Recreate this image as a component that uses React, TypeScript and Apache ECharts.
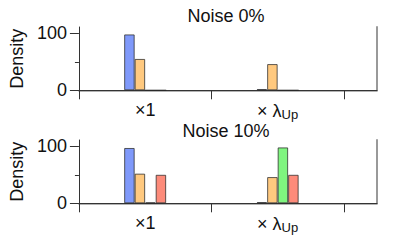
import React, { useEffect, useRef } from "react";
import * as echarts from "echarts";

const categories = ["×1", "× λ{sub|Up}"];
const categoryPositions = [1, 2];
const seriesNames = ["A", "B", "C", "D"];
const colors = ["#7f99fa", "#ffc97f", "#7ff57f", "#fd8b7a"];
const panelTitles = ["Noise 0%", "Noise 10%"];
const panel0Values = [
  [98, 2],
  [55, 46],
  [0, 0],
  [0, 0],
];
const panel1Values = [
  [97, 2],
  [52, 46],
  [1.5, 98],
  [50, 50],
];
const yTicks = [0, 100];
const xTickPositions = [0.5, 1.5, 2.5];

const FONT = "Liberation Sans";

export default function App() {
  const ref = useRef<HTMLDivElement>(null);
  useEffect(() => {
    if (!ref.current) return;
    const chart = echarts.init(ref.current, undefined, { renderer: "svg" });
    const panels = [panel0Values, panel1Values];
    const tops = [27, 140];
    const height = 63.3;
    const grids = tops.map((t) => ({ left: 66, top: t, width: 311, height, show: false }));
    const xAxes: any[] = [];
    const yAxes: any[] = [];
    const series: any[] = [];
    panels.forEach((vals, p) => {
      xAxes.push({
        type: "value",
        gridIndex: p,
        min: 0.5,
        max: 2.75,
        position: "bottom",
        splitLine: { show: false },
        axisLine: { show: true, lineStyle: { color: "#999", width: 1.5 } },
        axisTick: { show: true, length: 9, customValues: xTickPositions, lineStyle: { color: "#333", width: 1 } },
        axisLabel: {
          show: true,
          customValues: categoryPositions,
          margin: 11,
          fontFamily: FONT,
          fontSize: 18,
          color: "#111",
          formatter: (v: number) => {
            const i = categoryPositions.indexOf(v);
            return i >= 0 ? categories[i] : "";
          },
          rich: {
            sub: { fontSize: 13, fontFamily: FONT, color: "#111", padding: [7, 0, 0, 0] },
          },
        },
      });
      xAxes.push({
        type: "value",
        gridIndex: p,
        min: 0.5,
        max: 2.75,
        position: "top",
        splitLine: { show: false },
        axisLine: { show: true, lineStyle: { color: "#333", width: 1 } },
        axisTick: { show: false },
        axisLabel: { show: false },
      });
      yAxes.push({
        type: "value",
        gridIndex: p,
        min: 0,
        max: 111,
        interval: 100,
        position: "left",
        name: "Density",
        nameLocation: "middle",
        nameGap: 50,
        nameTextStyle: { fontFamily: FONT, fontSize: 18, color: "#111" },
        splitLine: { show: false },
        axisLine: { show: true, lineStyle: { color: "#333", width: 1 } },
        axisTick: { show: true, length: 9, customValues: yTicks, lineStyle: { color: "#333" } },
        minorTick: { show: true, splitNumber: 2, length: 4, lineStyle: { color: "#333" } },
        minorSplitLine: { show: false },
        axisLabel: {
          show: true,
          customValues: yTicks,
          margin: 12,
          fontFamily: FONT,
          fontSize: 18,
          color: "#111",
        },
      });
      yAxes.push({
        type: "value",
        gridIndex: p,
        min: 0,
        max: 111,
        position: "right",
        splitLine: { show: false },
        axisLine: { show: true, lineStyle: { color: "#999", width: 2 } },
        axisTick: { show: false },
        axisLabel: { show: false },
      });
      vals.forEach((sv, s) => {
        series.push({
          type: "bar",
          name: seriesNames[s],
          xAxisIndex: p * 2,
          yAxisIndex: p * 2,
          barWidth: 10.5,
          barGap: "0%",
          data: categoryPositions.map((x, i) => [x, sv[i]]),
          itemStyle: { color: colors[s], borderColor: "rgba(40,40,40,0.75)", borderWidth: 1 },
          z: 1,
        });
      });
    });
    chart.setOption({
      animation: false,
      title: panelTitles.map((t, i) => ({
        text: t,
        left: 221,
        textAlign: "center",
        top: i === 0 ? 2 : 117,
        textStyle: { fontFamily: FONT, fontSize: 18, fontWeight: "normal", color: "#111" },
      })),
      grid: grids,
      xAxis: xAxes,
      yAxis: yAxes,
      series,
    });
    return () => chart.dispose();
  }, []);
  return <div ref={ref} style={{ position: "fixed", left: 0, top: 0, width: 407, height: 244, background: "#fff" }} />;
}
